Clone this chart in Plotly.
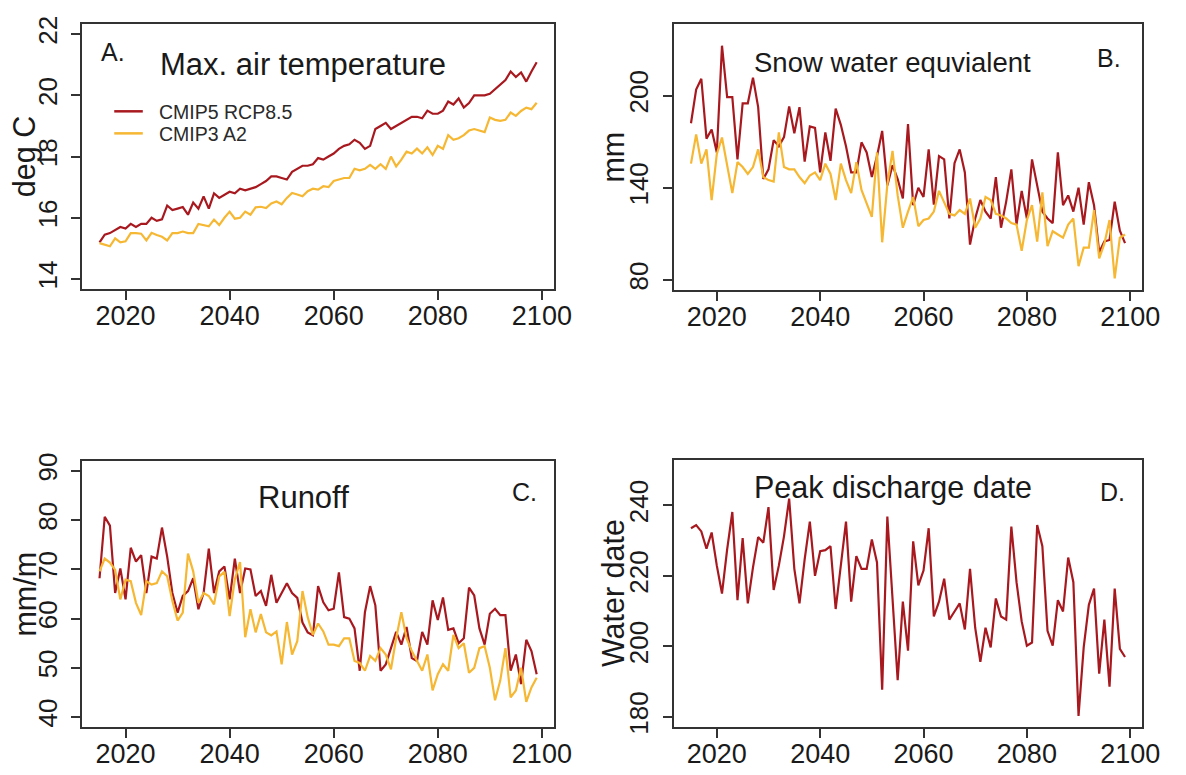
import plotly.graph_objects as go

# ---------------- data ----------------
years = list(range(2015, 2100))

tmax_rcp85 = [15.2, 15.45, 15.5, 15.6, 15.7, 15.65, 15.8, 15.7, 15.8, 15.8,
              16.0, 15.9, 15.95, 16.4, 16.25, 16.3, 16.35, 16.1, 16.5, 16.3,
              16.7, 16.3, 16.8, 16.65, 16.75, 16.85, 16.8, 16.95, 16.9, 16.95,
              17.0, 17.1, 17.2, 17.35, 17.35, 17.3, 17.25, 17.5, 17.6, 17.7,
              17.7, 17.75, 17.95, 17.9, 18.0, 18.1, 18.25, 18.35, 18.4, 18.55,
              18.45, 18.25, 18.35, 18.9, 19.0, 19.1, 18.9, 19.0, 19.1, 19.2,
              19.3, 19.3, 19.25, 19.5, 19.4, 19.4, 19.5, 19.8, 19.7, 19.9,
              19.6, 19.75, 20.0, 20.0, 20.0, 20.05, 20.2, 20.35, 20.5, 20.78,
              20.6, 20.75, 20.45, 20.78, 21.08]
tmax_a2 = [15.17, 15.12, 15.07, 15.33, 15.2, 15.23, 15.5, 15.5, 15.48, 15.26,
           15.51, 15.44, 15.38, 15.26, 15.5, 15.5, 15.55, 15.5, 15.5, 15.8,
           15.76, 15.72, 15.94, 15.76, 16.0, 16.2, 15.97, 16.0, 16.2, 16.1,
           16.34, 16.36, 16.32, 16.47, 16.53, 16.44, 16.65, 16.81, 16.76, 16.7,
           16.87, 16.95, 16.92, 17.03, 17.0, 17.2, 17.25, 17.3, 17.3, 17.6,
           17.55, 17.6, 17.73, 17.6, 17.75, 17.6, 18.0, 17.68, 17.9, 18.16,
           18.1, 18.26, 18.1, 18.3, 18.05, 18.35, 18.25, 18.7, 18.55, 18.6,
           18.7, 18.85, 18.9, 18.85, 18.8, 19.28, 19.2, 19.17, 19.2, 19.44,
           19.33, 19.49, 19.6, 19.55, 19.76]

swe_rcp85 = [182, 204, 211, 172, 178, 163, 232.5, 199, 199, 158.5,
             195, 195, 211.7, 192.5, 145.7, 152, 171, 167, 173, 193,
             175.5, 192.5, 157, 180, 179, 150, 176, 157.5, 191.5, 181,
             167, 150, 150, 169.6, 163, 147, 160.6, 177, 141.5, 154.7,
             145.7, 133, 181.5, 128.7, 140, 134, 165, 129, 160.6, 158.5,
             120, 156, 165, 150, 103, 120, 132, 124.5, 120, 147,
             114, 131, 152, 116, 138, 120, 158.5, 141.5, 124.5, 120,
             117, 163, 128.7, 135, 124.5, 140, 116, 143.6, 128.7, 98,
             105, 106, 131, 112, 104]
swe_a2 = [155.7, 174.8, 155.7, 165, 132, 162, 172.7, 155.7, 136.5, 156.7,
          153.5, 149, 153.5, 165, 147, 145, 144, 176, 153.5, 152,
          152, 147, 143, 148, 150, 145, 155.7, 149, 132, 155.7,
          145, 136.5, 156.7, 138.6, 130, 121, 163, 104.5, 142, 164,
          135, 114, 124.5, 134, 115, 119, 120, 124.5, 138, 131,
          123, 122, 125.5, 123, 133, 114, 120, 134, 132, 123,
          122, 120, 117, 116, 99, 119, 128.7, 105, 137, 102,
          111.7, 109.6, 107.5, 116, 120, 89, 101, 101, 125.5, 94,
          103.6, 119, 81, 107.5, 109.6]

runoff_rcp85 = [68.2, 80.7, 78.9, 65.2, 70.2, 63.9, 74.4, 71.6, 72.9, 65.2,
                72.6, 72.2, 78.5, 72.6, 65.2, 61.2, 64.6, 65.6, 68.2, 61.9,
                65.2, 74.2, 65.2, 69.6, 70.6, 63.9, 72.2, 65.2, 70.2, 70.0,
                64.6, 65.6, 62.6, 68.9, 63.2, 65.2, 67.2, 65.2, 64.2, 59.2,
                57.2, 56.6, 66.6, 63.3, 61.7, 62.0, 69.4, 60.3, 60.0, 58.0,
                49.4, 61.3, 66.6, 62.7, 49.4, 50.7, 54.0, 57.3, 54.7, 58.3,
                52.0, 51.4, 57.3, 54.7, 63.7, 59.7, 64.3, 57.7, 58.0, 55.0,
                56.0, 66.3, 64.7, 58.0, 54.7, 61.0, 62.0, 60.7, 60.7, 49.4,
                52.7, 46.7, 55.7, 53.4, 48.7]
runoff_a2 = [69.6, 72.2, 71.4, 69.9, 63.9, 67.9, 67.6, 63.2, 60.7, 67.6,
             66.9, 67.2, 69.6, 68.6, 63.6, 59.6, 61.2, 73.2, 69.6, 63.2,
             65.2, 64.6, 62.9, 68.6, 69.5, 60.5, 68.0, 71.5, 56.2, 61.9,
             57.2, 60.9, 57.2, 56.6, 57.4, 50.7, 59.3, 52.7, 55.4, 65.6,
             60.3, 56.7, 59.0, 57.4, 54.7, 54.7, 54.4, 56.0, 56.0, 51.4,
             51.0, 49.4, 52.4, 51.4, 54.0, 52.7, 49.7, 56.0, 61.3, 56.0,
             53.4, 51.4, 49.4, 52.7, 45.4, 48.7, 50.7, 49.4, 56.7, 54.0,
             55.0, 49.0, 50.0, 54.0, 54.4, 50.0, 43.4, 47.4, 54.0, 44.0,
             45.4, 50.0, 43.1, 46.0, 48.0]

peak_rcp85 = [233.5, 234.4, 232.6, 227.7, 232.3, 222.9, 215.0, 227.5, 238.1, 213.1,
              230.7, 212.2, 222.4, 231.0, 229.4, 239.5, 216.0, 222.9, 231.2, 241.9,
              222.0, 212.2, 224.7, 235.4, 220.0, 227.0, 227.3, 228.4, 210.6, 222.9,
              235.4, 212.7, 225.6, 222.0, 222.0, 230.3, 223.8, 187.7, 236.8, 213.6,
              190.4, 212.7, 198.8, 229.8, 217.3, 221.5, 233.5, 208.5, 212.7, 219.2,
              207.6, 209.9, 212.2, 204.8, 222.0, 205.3, 195.6, 205.3, 199.7, 213.6,
              208.5, 207.6, 234.0, 218.2, 207.1, 200.2, 201.1, 234.4, 228.4, 204.4,
              200.2, 213.1, 209.9, 225.2, 218.2, 180.3, 199.7, 211.8, 216.4, 192.3,
              207.6, 188.6, 216.4, 199.3, 197.0]

series_names = ["CMIP5 RCP8.5", "CMIP3 A2"]
x_ticks = [2020, 2040, 2060, 2080, 2100]
ticks_a = [14, 16, 18, 20, 22]
ticks_b = [80, 140, 200]
ticks_c = [40, 50, 60, 70, 80, 90]
ticks_d = [180, 200, 220, 240]

# ---------------- styling ----------------
W, H = 1186, 775
RED = "#A8191F"
YEL = "#F6B733"
AXC = "#333333"
TXT = "#1a1a1a"
FONT = "Liberation Sans, Arial, sans-serif"


def fx(p):
    return p / W


def fy(p):
    return 1 - p / H


panels = [
    dict(xd=(83.3, 562.7), yd=(16.7, 286.7), yr=[13.68, 22.32], yt=ticks_a,
         ytitle="deg C", ytx=25, title="Max. air temperature", tsz=31, tx=308, ty=58,
         lab="A.", lx=115, ly=45),
    dict(xd=(684, 1160), yd=(16.7, 287.7), yr=[73.6, 246.4], yt=ticks_b,
         ytitle="mm", ytx=623, title="Snow water equvialent", tsz=27.5, tx=906, ty=56,
         lab="B.", lx=1126, ly=51),
    dict(xd=(83.3, 562.7), yd=(462.7, 734), yr=[38, 92], yt=ticks_c,
         ytitle="mm/m", ytx=25, title="Runoff", tsz=31, tx=308, ty=500,
         lab="C.", lx=533, ly=494),
    dict(xd=(684, 1160), yd=(461.7, 734), yr=[177.2, 252.8], yt=ticks_d,
         ytitle="Water date", ytx=622, title="Peak discharge date", tsz=30.5, tx=907, ty=490,
         lab="D.", lx=1130, ly=494),
]

fig = go.Figure()

data_sets = [
    [(tmax_rcp85, RED), (tmax_a2, YEL)],
    [(swe_rcp85, RED), (swe_a2, YEL)],
    [(runoff_rcp85, RED), (runoff_a2, YEL)],
    [(peak_rcp85, RED)],
]

for i, sets in enumerate(data_sets):
    sfx = "" if i == 0 else str(i + 1)
    for j, (vals, col) in enumerate(sets):
        fig.add_trace(go.Scatter(
            x=years, y=vals, mode="lines", name=series_names[j],
            line=dict(color=col, width=2.2),
            xaxis="x" + sfx, yaxis="y" + sfx, showlegend=False,
            hoverinfo="x+y"))

layout = dict(
    width=W, height=H,
    margin=dict(l=0, r=0, t=0, b=0),
    paper_bgcolor="white", plot_bgcolor="white",
    font=dict(family=FONT, color=TXT),
    showlegend=False,
)

annotations = []
shapes = []
for i, p in enumerate(panels):
    sfx = "" if i == 0 else str(i + 1)
    common = dict(showline=True, mirror=True, linecolor=AXC, linewidth=1.8,
                  ticks="outside", ticklen=9, tickwidth=1.5, tickcolor=AXC,
                  showgrid=False, zeroline=False)
    layout["xaxis" + sfx] = dict(
        domain=[fx(p["xd"][0]), fx(p["xd"][1])], range=[2011.64, 2102.36],
        tickvals=x_ticks, anchor="y" + sfx, ticklabelstandoff=-7,
        tickfont=dict(family=FONT, size=27, color=TXT), **common)
    layout["yaxis" + sfx] = dict(
        domain=[fy(p["yd"][1]), fy(p["yd"][0])], range=p["yr"],
        tickvals=p["yt"], tickangle=-90, anchor="x" + sfx,
        ticklabelstandoff=4,
        tickfont=dict(family=FONT, size=26, color=TXT), **common)
    ymid = (p["yd"][0] + p["yd"][1]) / 2
    annotations.append(dict(
        text=p["ytitle"], x=fx(p["ytx"]), y=fy(ymid), xref="paper", yref="paper",
        textangle=-90, showarrow=False, xanchor="center", yanchor="middle",
        font=dict(size=30.5, family=FONT, color=TXT)))
    annotations.append(dict(
        text=p["title"], x=fx(p["tx"]), y=fy(p["ty"]), xref="paper", yref="paper",
        showarrow=False, xanchor="center", yanchor="middle",
        font=dict(size=p["tsz"], family=FONT, color=TXT)))
    annotations.append(dict(
        text=p["lab"], x=fx(p["lx"]), y=fy(p["ly"]), xref="paper", yref="paper",
        showarrow=False, xanchor="center", yanchor="middle",
        font=dict(size=25, family=FONT, color=TXT)))

# legend (panel A)
for k, (name, col) in enumerate(zip(series_names, [RED, YEL])):
    yy = 105.5 + 22.5 * k
    shapes.append(dict(type="line", xref="paper", yref="paper",
                       x0=fx(116), x1=fx(145), y0=fy(yy), y1=fy(yy),
                       line=dict(color=col, width=2.5)))
    annotations.append(dict(
        text=name, x=fx(159), y=fy(yy + 1), xref="paper", yref="paper",
        showarrow=False, xanchor="left", yanchor="middle",
        font=dict(size=19.5, family=FONT, color="#2a2a2a")))

layout["annotations"] = annotations
layout["shapes"] = shapes
fig.update_layout(**layout)

fig.write_html("out.html",
               config={"displayModeBar": False},
               post_script="document.body.style.margin='0px';"
                           "document.body.style.padding='0px';"
                           "document.body.style.overflow='hidden';")
